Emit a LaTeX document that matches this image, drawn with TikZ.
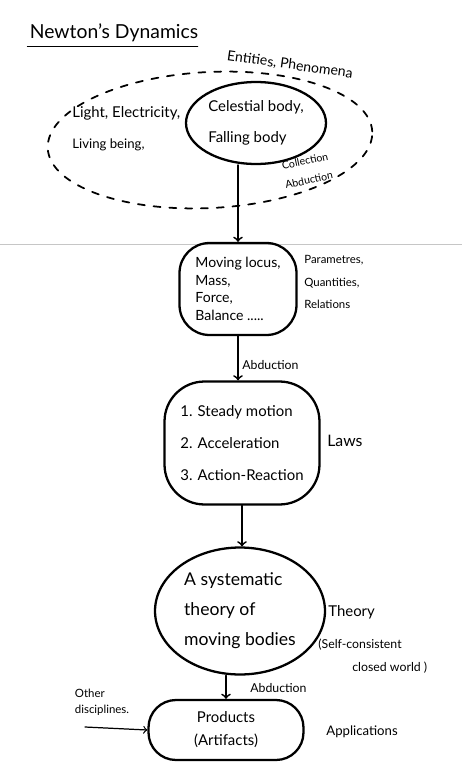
\documentclass[tikz,border=0pt]{standalone}
\usepackage{fontspec}
\setmainfont{Lato}
\usetikzlibrary{shapes.geometric}

\begin{document}
\begin{tikzpicture}[x=0.02cm,y=-0.02cm,line cap=round,line join=round,
  blob/.style={draw,line width=1.3pt,inner sep=0pt,align=left},
  lbl/.style={inner sep=0pt,align=left,font=\fontsize{6.5}{12}\selectfont},
  arr/.style={line width=1pt,->}]
  \useasboundingbox (0,0) rectangle (462,764);
  % Titel
  \node[inner sep=0pt,font=\fontsize{11}{13}\selectfont] (title) at (114,33) {Newton's Dynamics};
  \draw[line width=0.9pt] (title.south west) ++(-2,4) -- ++(170,0);
  % Umfeld (gestrichelt)
  \node[ellipse,draw,dash pattern=on 4pt off 5pt,line width=1pt,minimum width=6.5cm,minimum height=2.72cm,rotate=3] (field) at (210,140) {};
  \node[lbl,font=\fontsize{8}{10}\selectfont,rotate=-8] (ent) at (290,65) {Entities, Phenomena};
  \node[lbl,anchor=west,font=\fontsize{8.5}{11}\selectfont] (light) at (72,113) {Light, Electricity,};
  \node[lbl,anchor=west,font=\fontsize{7.5}{10}\selectfont] (living) at (72,145) {Living being,};
  \node[lbl,rotate=12,font=\fontsize{6}{8}\selectfont] (coll) at (305,161) {Collection};
  \node[lbl,rotate=12,font=\fontsize{6}{8}\selectfont] (abd0) at (309,180) {Abduction};
  % Gegenstand
  \node[blob,ellipse,minimum width=2.8cm,minimum height=1.64cm,font=\fontsize{8.5}{18}\selectfont] (b1) at (256,123) {Celestial body,\\Falling body};
  % Scanfalte
  \draw[gray!45,line width=0.5pt] (0,244) -- (462,244);
  % Groessen
  \node[blob,rounded corners=0.6cm,minimum width=2.34cm,minimum height=1.84cm,font=\fontsize{8}{10}\selectfont] (b2) at (238,289) {Moving locus,\\Mass,\\Force,\\Balance .....};
  \node[lbl,anchor=west,font=\fontsize{6.5}{13}\selectfont] (par) at (304,282) {Parametres,\\Quantities,\\Relations};
  % Gesetze
  \node[blob,rounded corners=0.8cm,minimum width=3.1cm,minimum height=2.46cm,font=\fontsize{8.5}{18}\selectfont] (b3) at (242,443) {1. Steady motion\\2. Acceleration\\3. Action-Reaction};
  \node[lbl,anchor=west,font=\fontsize{9}{11}\selectfont] (laws) at (327,441) {Laws};
  % Theorie
  \node[blob,ellipse,minimum width=3.4cm,minimum height=2.54cm,font=\fontsize{10}{17}\selectfont] (b4) at (240,611) {A systematic\\theory of\\moving bodies};
  \node[lbl,anchor=west,font=\fontsize{8.5}{11}\selectfont] (theory) at (328,612) {Theory};
  \node[lbl,anchor=west,font=\fontsize{7}{9}\selectfont] (self) at (318,645) {(Self-consistent};
  \node[lbl,anchor=west,font=\fontsize{7}{9}\selectfont] (closed) at (352,668) {closed world )};
  % Anwendungen
  \node[blob,rounded corners=0.55cm,minimum width=3.1cm,minimum height=1.2cm,font=\fontsize{8.5}{13}\selectfont,align=center] (b5) at (226,730) {Products\\(Artifacts)};
  \node[lbl,anchor=west,font=\fontsize{7.5}{9}\selectfont] (appl) at (326,732) {Applications};
  \node[lbl,font=\fontsize{6.5}{9}\selectfont] (other) at (102,702) {Other\\disciplines.};
  \coordinate (od) at (85,727);
  % Pfeile
  \draw[arr] (b1.south -| b2.north) -- (b2.north);
  \draw[arr] (b2.south) -- (b2.south |- b3.north);
  \node[lbl,anchor=west,font=\fontsize{7}{9}\selectfont] (abd1) at (242,365) {Abduction};
  \draw[arr] (b3.south) -- (b3.south |- b4.north);
  \draw[arr] (b4.south -| b5.north) -- (b5.north);
  \node[lbl,anchor=west,font=\fontsize{7}{9}\selectfont] (abd2) at (250,688) {Abduction};
  \draw[arr,line width=0.7pt] (od) -- (b5.west);
\end{tikzpicture}
\end{document}
